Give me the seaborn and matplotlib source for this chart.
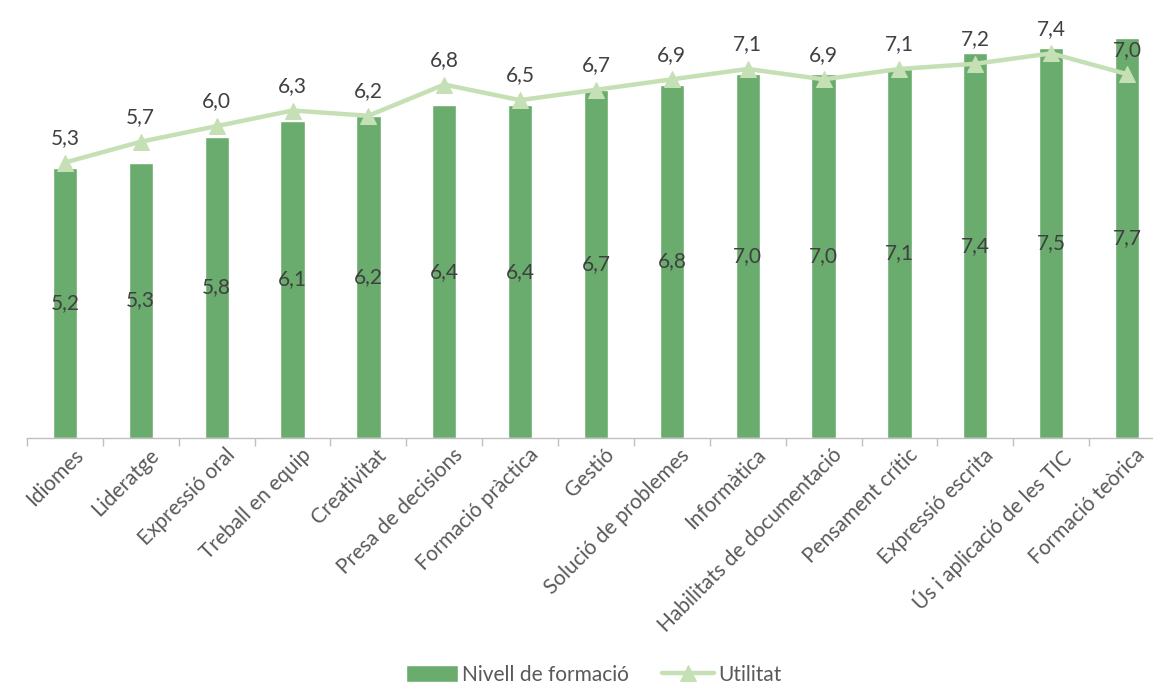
import numpy as np
import matplotlib
matplotlib.use("Agg")
import matplotlib.pyplot as plt
import matplotlib.transforms as mtransforms
import seaborn as sns

# ----------------- Data -----------------
categories = ["Idiomes", "Lideratge", "Expressió oral", "Treball en equip", "Creativitat",
              "Presa de decisions", "Formació pràctica", "Gestió", "Solució de problemes",
              "Informàtica", "Habilitats de documentació", "Pensament crític",
              "Expressió escrita", "Ús i aplicació de les TIC", "Formació teòrica"]
nivell = [5.2, 5.3, 5.8, 6.1, 6.2, 6.4, 6.4, 6.7, 6.8, 7.0, 7.0, 7.1, 7.4, 7.5, 7.7]
utilitat = [5.3, 5.7, 6.0, 6.3, 6.2, 6.8, 6.5, 6.7, 6.9, 7.1, 6.9, 7.1, 7.2, 7.4, 7.0]

bar_color = "#6aab6e"
line_color = "#c5e0b4"
text_color = "#404040"

sns.set_theme(style="white")
plt.rcParams["font.family"] = ["Lato", "DejaVu Sans"]

fig = plt.figure(figsize=(11.53, 6.93), dpi=100)
ax = fig.add_axes([0.0234, 0.368, 0.987, 0.600])

sns.barplot(x=categories, y=nivell, color=bar_color, width=0.32, saturation=1,
            ax=ax, label="Nivell de formació")
x = np.arange(len(categories))
sns.lineplot(x=x, y=utilitat, color=line_color, linewidth=3.2, marker="^",
             markersize=11, markeredgecolor=line_color, ax=ax, label="Utilitat")

# value labels
for i, v in enumerate(nivell):
    ax.text(i, v / 2, f"{v:.1f}".replace(".", ","), ha="center", va="center",
            fontsize=15, color=text_color)
for i, v in enumerate(utilitat):
    ax.text(i, v + 0.28, f"{v:.1f}".replace(".", ","), ha="center", va="bottom",
            fontsize=15, color=text_color)

ax.set_ylim(0, 8)
ax.set_xlim(-0.5, len(categories) - 0.5)
ax.set_yticks([])
for s in ["top", "right", "left"]:
    ax.spines[s].set_visible(False)
ax.spines["bottom"].set_color("#bfbfbf")
ax.spines["bottom"].set_linewidth(1)

# ticks between categories
ax.set_xticks(np.arange(-0.5, len(categories), 1), minor=True)
ax.tick_params(axis="x", which="minor", length=6, width=1, color="#bfbfbf", bottom=True)
ax.tick_params(axis="x", which="major", length=0, pad=5)
ax.set_xticks(x)
ax.set_xticklabels(categories, rotation=45, ha="right", rotation_mode="anchor",
                   fontsize=15, color="#595959")
offset = mtransforms.ScaledTranslation(0.08, 0, fig.dpi_scale_trans)
for lbl in ax.get_xticklabels():
    lbl.set_transform(lbl.get_transform() + offset)

if ax.legend_:
    ax.legend_.remove()
handles, labels = ax.get_legend_handles_labels()
order = [labels.index("Nivell de formació"), labels.index("Utilitat")]
fig.legend([handles[k] for k in order], [labels[k] for k in order],
           loc="lower center", bbox_to_anchor=(0.515, -0.015), ncol=2,
           frameon=False, fontsize=15, labelcolor="#595959", handlelength=2.5,
           handleheight=0.9, columnspacing=1.6, handletextpad=0.2)

fig.savefig("out.png", dpi=100)
